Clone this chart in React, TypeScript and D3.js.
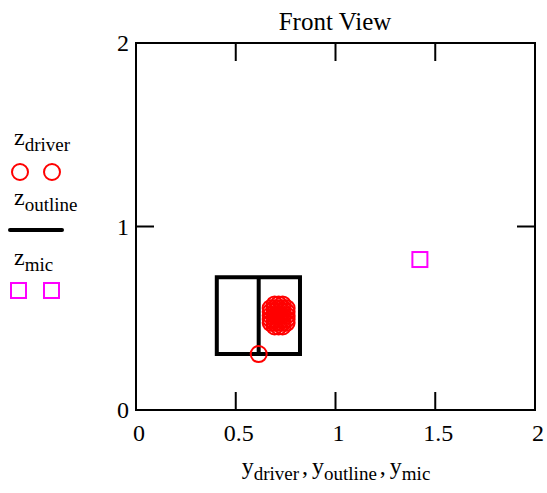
import React from "react";
import * as d3 from "d3";

// axis ticks
const xTicks = [0, 0.5, 1, 1.5, 2];
const xTickLabels = ["0", "0.5", "1", "1.5", "2"];
const yTicks = [0, 1, 2];
const yTickLabels = ["0", "1", "2"];

// driver points (y, z)
const yDriver = [
    0.615,
    0.695, 0.715, 0.735,
    0.675, 0.695, 0.715, 0.735, 0.755,
    0.675, 0.695, 0.715, 0.735, 0.755,
    0.675, 0.695, 0.715, 0.735, 0.755,
    0.675, 0.695, 0.715, 0.735, 0.755,
    0.675, 0.695, 0.715, 0.735, 0.755,
    0.695, 0.715, 0.735,
];
const zDriver = [
    0.305,
    0.575, 0.575, 0.575,
    0.555, 0.555, 0.555, 0.555, 0.555,
    0.535, 0.535, 0.535, 0.535, 0.535,
    0.515, 0.515, 0.515, 0.515, 0.515,
    0.495, 0.495, 0.495, 0.495, 0.495,
    0.475, 0.475, 0.475, 0.475, 0.475,
    0.455, 0.455, 0.455,
];

// cabinet outline, drawn as one polyline
const yOutline = [0.615, 0.405, 0.405, 0.822, 0.822, 0.615, 0.615];
const zOutline = [0.305, 0.305, 0.723, 0.723, 0.305, 0.305, 0.723];

// microphone
const yMic = [1.423];
const zMic = [0.82];

const W = 547;
const H = 493;
const FONT = "Liberation Serif";
const MAIN = 24;
const SUB = 19;

const App: React.FC = () => {
    const x = d3.scaleLinear().domain([0, 2]).range([136, 535]);
    const y = d3.scaleLinear().domain([0, 2]).range([410, 43]);
    const tickLen = 18;

    const line = d3
        .line<number>()
        .x((d) => x(d))
        .y((_, i) => y(zOutline[i]));

    // main letter then a lowered subscript
    const sub = (main: string, s: string, dx = 0) => (
        <>
            <tspan dx={dx}>{main}</tspan>
            <tspan fontSize={SUB} dy={6}>{s}</tspan>
        </>
    );

    return (
        <svg
            width={W}
            height={H}
            style={{ position: "absolute", left: 0, top: 0, background: "#fff" }}
        >
            <rect width={W} height={H} fill="#fff" />
            <g fontFamily={FONT}>
                {/* title */}
                <text x={335} y={30} fontSize={25} textAnchor="middle" fontFamily={FONT}>
                    Front View
                </text>

                {/* frame */}
                <rect
                    x={x(0)}
                    y={y(2)}
                    width={x(2) - x(0)}
                    height={y(0) - y(2)}
                    fill="none"
                    stroke="#000"
                    strokeWidth={2}
                />

                {/* inner ticks */}
                {xTicks.slice(1, -1).map((t) => (
                    <g key={"xt" + t}>
                        <line x1={x(t)} x2={x(t)} y1={y(2)} y2={y(2) + tickLen} stroke="#000" strokeWidth={2} />
                        <line x1={x(t)} x2={x(t)} y1={y(0)} y2={y(0) - tickLen} stroke="#000" strokeWidth={2} />
                    </g>
                ))}
                {yTicks.slice(1, -1).map((t) => (
                    <g key={"yt" + t}>
                        <line x1={x(0)} x2={x(0) + tickLen} y1={y(t)} y2={y(t)} stroke="#000" strokeWidth={2} />
                        <line x1={x(2)} x2={x(2) - tickLen} y1={y(t)} y2={y(t)} stroke="#000" strokeWidth={2} />
                    </g>
                ))}

                {/* tick labels */}
                {xTicks.map((t, i) => (
                    <text key={"xl" + t} x={x(t) + 3} y={441} fontSize={MAIN} textAnchor="middle" fontFamily={FONT}>
                        {xTickLabels[i]}
                    </text>
                ))}
                {yTicks.map((t, i) => (
                    <text key={"yl" + t} x={129} y={y(t) + 8} fontSize={MAIN} textAnchor="end" fontFamily={FONT}>
                        {yTickLabels[i]}
                    </text>
                ))}

                {/* outline */}
                <path
                    d={line(yOutline) || ""}
                    fill="none"
                    stroke="#000"
                    strokeWidth={4}
                    strokeLinejoin="miter"
                />

                {/* driver */}
                {yDriver.map((d, i) => (
                    <circle
                        key={"dr" + i}
                        cx={x(d)}
                        cy={y(zDriver[i])}
                        r={8}
                        fill="none"
                        stroke="#ff0000"
                        strokeWidth={2}
                    />
                ))}

                {/* mic */}
                {yMic.map((d, i) => (
                    <rect
                        key={"mic" + i}
                        x={x(d) - 7.5}
                        y={y(zMic[i]) - 7.5}
                        width={15}
                        height={15}
                        fill="none"
                        stroke="#ff00ff"
                        strokeWidth={2}
                    />
                ))}

                {/* legend */}
                <text x={14} y={145} fontSize={MAIN} fontFamily={FONT}>{sub("z", "driver")}</text>
                <circle cx={20} cy={172} r={8} fill="none" stroke="#ff0000" strokeWidth={2} />
                <circle cx={52} cy={172} r={8} fill="none" stroke="#ff0000" strokeWidth={2} />

                <text x={14} y={205} fontSize={MAIN} fontFamily={FONT}>{sub("z", "outline")}</text>
                <line x1={10} x2={62} y1={230} y2={230} stroke="#000" strokeWidth={4} strokeLinecap="round" />

                <text x={14} y={265} fontSize={MAIN} fontFamily={FONT}>{sub("z", "mic")}</text>
                <rect x={11} y={283} width={15} height={15} fill="none" stroke="#ff00ff" strokeWidth={2} />
                <rect x={44} y={283} width={15} height={15} fill="none" stroke="#ff00ff" strokeWidth={2} />

                {/* x axis label */}
                <text x={336} y={474} fontSize={MAIN} textAnchor="middle" fontFamily={FONT}>
                    {sub("y", "driver")}
                    <tspan dx={3} dy={-6}>,</tspan>
                    {sub("y", "outline", 4)}
                    <tspan dx={3} dy={-6}>,</tspan>
                    {sub("y", "mic", 4)}
                </text>
            </g>
        </svg>
    );
};

export default App;
